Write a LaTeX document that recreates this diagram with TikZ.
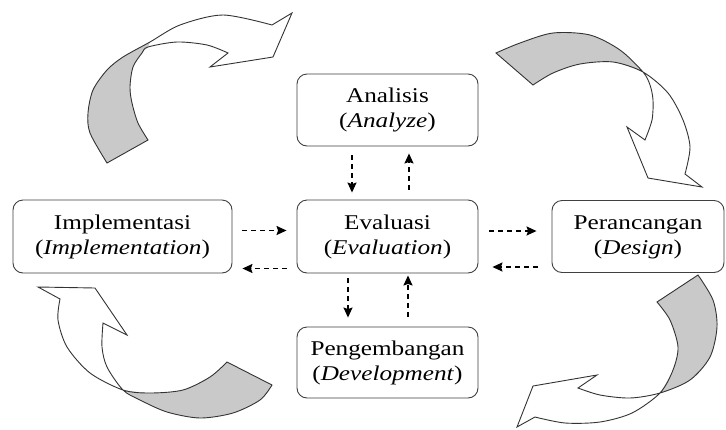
\documentclass[tikz,border=0pt]{standalone}
\usepackage{fontspec}
\setmainfont{Liberation Serif}
\usetikzlibrary{arrows.meta}
\tikzset{
 box/.style={draw=black!75, line width=0.9pt, rounded corners=10pt, minimum width=181pt, minimum height=72pt, inner sep=0pt, font=\fontsize{21}{25}\selectfont},
 dar/.style={dash pattern=on 5pt off 4pt, line width=1.5pt, -{Stealth[length=10pt,width=9pt,inset=1.5pt]}},
 ribbon/.style={draw=black!80, line width=0.9pt, line join=miter},
 back/.style={fill=black!21},
}
\newcommand{\bx}[2]{\scalebox{1.2}[1]{\begin{tabular}{@{}c@{}}#1\\(\textit{#2})\end{tabular}}}
\begin{document}
\begin{tikzpicture}[x=1pt,y=-1pt]
\useasboundingbox (0,0) rectangle (726,429);
\fill[white] (0,0) rectangle (726,429);

% top-left curved arrow
\fill[back] plot[smooth] coordinates {(107,163) (90,133) (88,113) (93,90) (107,70) (123,57) (150,42)} -- plot[smooth] coordinates {(148,47) (142,53) (133,67) (130,87) (132,103) (138,123) (148,140)} -- cycle;
\draw[ribbon] plot[smooth] coordinates {(107,163) (90,133) (88,113) (93,90) (107,70) (123,57) (150,42) (180,25) (223,15) (272,25)} -- (292,13) -- (273,57) -- (210,67) -- plot[smooth] coordinates {(228,53) (207,45) (177,42) (148,47) (142,53) (133,67) (130,87) (132,103) (138,123) (148,140)} -- cycle;

% top-right curved arrow
\fill[back] plot[smooth] coordinates {(496,53) (520,43) (553,33) (590,35) (620,50) (643,72)} -- plot[smooth] coordinates {(643,72) (613,62) (580,64) (553,73) (533,85)} -- cycle;
\draw[ribbon] plot[smooth] coordinates {(496,53) (520,43) (553,33) (590,35) (620,50) (643,72) (650,85) (653,100) (652,120) (645,140)} -- (627,127) -- (648,178) -- (702,187) -- plot[smooth] coordinates {(685,174) (690,147) (683,120) (668,93) (643,72) (613,62) (580,64) (553,73) (533,85)} -- cycle;

% bottom-left curved arrow
\fill[back] plot[smooth] coordinates {(227,362) (210,377) (183,390) (150,393) (123,390)} -- plot[smooth] coordinates {(123,390) (140,400) (167,412) (200,418) (233,413) (260,400) (272,385)} -- cycle;
\draw[ribbon] plot[smooth] coordinates {(227,362) (210,377) (183,390) (150,393) (123,390) (90,373) (67,347) (58,320) (60,299)} -- (38,287) -- (95,288) -- (127,335) -- plot[smooth] coordinates {(103,323) (102,347) (107,367) (123,390) (140,400) (167,412) (200,418) (233,413) (260,400) (272,385)} -- cycle;

% bottom-right curved arrow
\fill[back] plot[smooth] coordinates {(657,302) (670,320) (678,347) (673,370) (660,393)} -- plot[smooth] coordinates {(660,393) (690,380) (710,357) (717,327) (713,300) (698,275)} -- cycle;
\draw[ribbon] plot[smooth] coordinates {(657,302) (670,320) (678,347) (673,370) (660,393) (632,413) (600,422) (565,423) (535,417)} -- (517,427) -- (533,386) -- (597,375) -- plot[smooth] coordinates {(578,388) (600,395) (630,398) (660,393) (690,380) (710,357) (717,327) (713,300) (698,275)} -- cycle;

% boxes
\node[box] (ana) at (387.5,110) {\bx{Analisis}{Analyze}};
\node[box, minimum height=73pt] (eva) at (387.5,236.5) {\bx{Evaluasi}{Evaluation}};
\node[box, minimum height=71pt] (pen) at (387.5,362.5) {\bx{Pengembangan}{Development}};
\node[box, minimum width=219pt, minimum height=73pt] (imp) at (122.5,236.5) {\bx{Implementasi}{Implementation}};
\node[box, minimum width=172pt] (per) at (638,236.5) {\bx{Perancangan}{Design}};

% dashed arrows
\draw[dar, shorten <=9pt, shorten >=7pt] ([xshift=-35.5pt]ana.south) -- ([xshift=-35.5pt]eva.north);
\draw[dar, shorten <=10pt, shorten >=7pt] ([xshift=21.5pt]eva.north) -- ([xshift=21.5pt]ana.south);
\draw[dar, shorten <=5pt, shorten >=9pt] ([xshift=-39.5pt]eva.south) -- ([xshift=-39.5pt]pen.north);
\draw[dar, shorten <=10pt, shorten >=2pt] ([xshift=20.5pt]pen.north) -- ([xshift=20.5pt]eva.south);
\draw[dar, shorten <=10pt, shorten >=10pt] ([yshift=6pt]imp.east) -- ([yshift=6pt]eva.west);
\draw[dar, shorten <=10pt, shorten >=10pt] ([yshift=-32pt]eva.west) -- ([yshift=-32pt]imp.east);
\draw[dar, shorten <=11pt, shorten >=15pt] ([yshift=5.5pt]eva.east) -- ([yshift=5.5pt]per.west);
\draw[dar, shorten <=14pt, shorten >=14pt] ([yshift=-30.5pt]per.west) -- ([yshift=-30.5pt]eva.east);
\end{tikzpicture}
\end{document}
